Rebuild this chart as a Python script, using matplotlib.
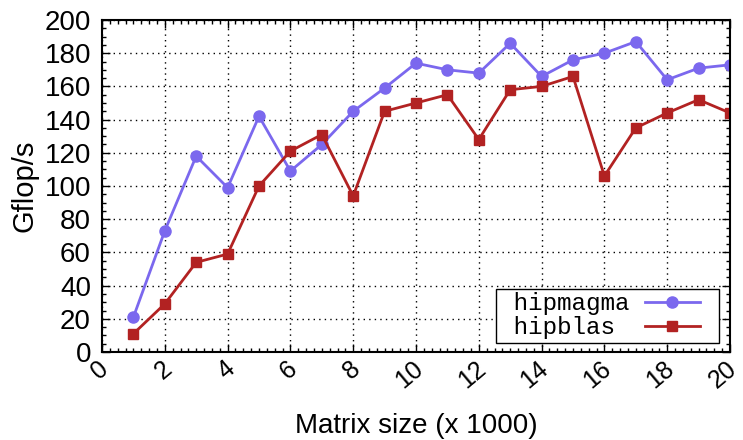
import numpy as np
import matplotlib.pyplot as plt
import matplotlib.transforms as mtransforms
from matplotlib.legend_handler import HandlerLine2D
from matplotlib.ticker import MultipleLocator

sizes = list(range(1, 21))
hipmagma = [21, 73, 118, 99, 142, 109, 125, 145, 159, 174, 170, 168, 186, 166, 176, 180, 187, 164, 171, 173]
hipblas = [11, 29, 54, 59, 100, 121, 131, 94, 145, 150, 155, 128, 158, 160, 166, 106, 135, 144, 152, 144]

plt.rcParams['font.family'] = ['Liberation Sans', 'DejaVu Sans']


class ShortLine(HandlerLine2D):
    # draw the sample in the left part of the handle box, leaving room on the right
    def create_artists(self, legend, orig_handle, xdescent, ydescent, width, height, fontsize, trans):
        return super().create_artists(legend, orig_handle, xdescent, ydescent,
                                      width * 0.785, height, fontsize, trans)


fig = plt.figure(figsize=(7.43, 4.40), dpi=100)
ax = fig.add_axes([102 / 743, 1 - 352 / 440, 628 / 743, 332 / 440])

ax.plot(sizes, hipmagma, color='#7b68ee', marker='o', markersize=8, linewidth=2, label=' hipmagma')
ax.plot(sizes, hipblas, color='#b22222', marker='s', markersize=7.5, linewidth=2, label=' hipblas ')

ax.set_xlim(0, 20)
ax.set_ylim(0, 200)
ax.xaxis.set_major_locator(MultipleLocator(2))
ax.xaxis.set_minor_locator(MultipleLocator(0.25))
ax.yaxis.set_major_locator(MultipleLocator(20))
ax.yaxis.set_minor_locator(MultipleLocator(5))
ax.tick_params(which='both', direction='in', top=True, right=True, width=1)
ax.tick_params(which='major', length=6)
ax.tick_params(which='minor', length=3)
ax.tick_params(axis='y', labelsize=20, pad=8)
ax.tick_params(axis='x', labelsize=18, pad=3.5)
shift = mtransforms.ScaledTranslation(-4 / 100, 0, fig.dpi_scale_trans)
for lbl in ax.get_xticklabels():
    lbl.set_rotation(40)
    lbl.set_ha('right')
    lbl.set_va('top')
    lbl.set_rotation_mode('anchor')
    lbl.set_transform(lbl.get_transform() + shift)
for sp in ax.spines.values():
    sp.set_linewidth(1.5)

ax.grid(True, which='major', color='black', linestyle=(0, (1, 3)), linewidth=1)

ax.set_xlabel('Matrix size (x 1000)', fontsize=20, labelpad=14)
ax.set_ylabel('Gflop/s', fontsize=21, labelpad=4)

leg = ax.legend(loc='lower right', markerfirst=False, fancybox=False, framealpha=1,
                edgecolor='black', prop={'family': 'Liberation Mono', 'size': 17.5},
                borderpad=0.15, handlelength=2.9, handletextpad=0.6, labelspacing=0.05,
                borderaxespad=0, bbox_to_anchor=(0.982, 0.027),
                handler_map={plt.Line2D: ShortLine()})
leg.get_frame().set_linewidth(1)

fig.savefig('out.png', dpi=100)
